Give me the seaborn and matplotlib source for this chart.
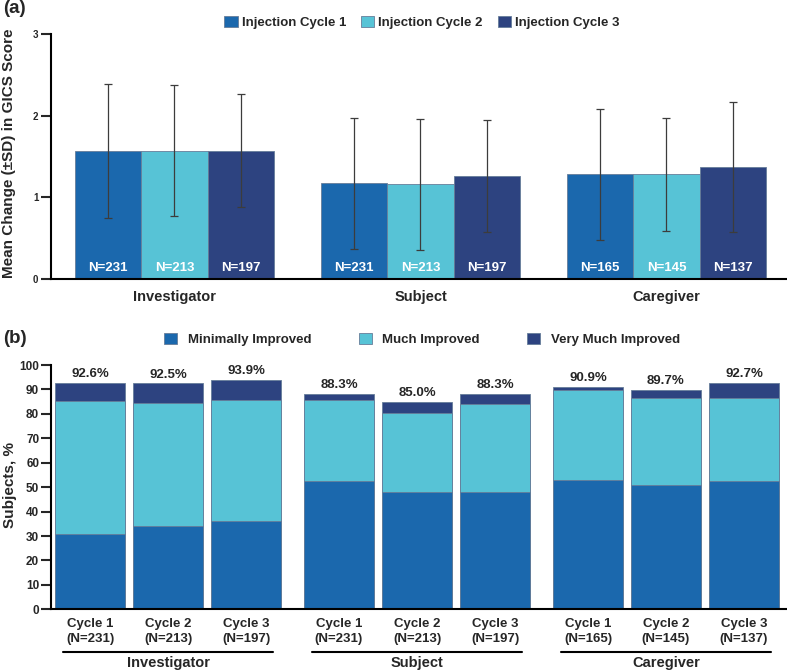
import numpy as np
import pandas as pd
import seaborn as sns
import matplotlib.pyplot as plt
import matplotlib.transforms as mtransforms
from matplotlib.patches import Patch

# ---- panel (a): mean change in GICS score
raters = ["Investigator", "Subject", "Caregiver"]
cycles_a = ["Injection Cycle 1", "Injection Cycle 2", "Injection Cycle 3"]
mean_c1 = [1.57, 1.17, 1.28]
mean_c2 = [1.57, 1.16, 1.28]
mean_c3 = [1.57, 1.26, 1.37]
sd_c1 = [0.82, 0.80, 0.80]
sd_c2 = [0.80, 0.80, 0.69]
sd_c3 = [0.69, 0.69, 0.80]
n_c1 = [231, 231, 165]
n_c2 = [213, 213, 145]
n_c3 = [197, 197, 137]

# ---- panel (b): responder categories, %
b_rater = ["Investigator"] * 3 + ["Subject"] * 3 + ["Caregiver"] * 3
b_cycle = ["Cycle 1", "Cycle 2", "Cycle 3"] * 3
b_n = [231, 213, 197, 231, 213, 197, 165, 145, 137]
minimal = [31.0, 34.0, 36.0, 52.5, 48.2, 48.2, 52.8, 51.0, 52.6]
much = [54.3, 50.6, 49.8, 33.1, 32.3, 36.0, 37.0, 35.3, 33.9]
very_much = [7.3, 7.9, 8.1, 2.7, 4.5, 4.1, 1.1, 3.4, 6.2]
totals = [92.6, 92.5, 93.9, 88.3, 85.0, 88.3, 90.9, 89.7, 92.7]
resp_labels = ["Minimally Improved", "Much Improved", "Very Much Improved"]

blue, cyan, navy = "#1b68ad", "#57c3d6", "#2d4380"
edge = "#667d99"

sns.set_style("ticks")
plt.rcParams["font.family"] = ["Liberation Sans", "DejaVu Sans"]
plt.rcParams["font.weight"] = "bold"
plt.rcParams["axes.labelweight"] = "bold"

fig = plt.figure(figsize=(7.87, 6.72), dpi=100)
ax1 = fig.add_axes([0.0648, 0.5848, 0.9352, 0.3646])
ax2 = fig.add_axes([0.0648, 0.0933, 0.9352, 0.3635])

# ---------------- (a)
df_a = pd.DataFrame({
    "rater": raters * 3,
    "cycle": np.repeat(cycles_a, 3),
    "mean": mean_c1 + mean_c2 + mean_c3,
})
sns.barplot(df_a, x="rater", y="mean", hue="cycle", palette=[blue, cyan, navy],
            width=0.81, errorbar=None, saturation=1, edgecolor=edge, linewidth=0.6, ax=ax1)

for cont, means, sds, ns in zip(ax1.containers, [mean_c1, mean_c2, mean_c3],
                                [sd_c1, sd_c2, sd_c3], [n_c1, n_c2, n_c3]):
    xs = [b.get_x() + b.get_width() / 2 for b in cont]
    ax1.errorbar(xs, means, yerr=sds, fmt="none", ecolor="#3c3c3c",
                 elinewidth=0.9, capsize=3, capthick=0.9, zorder=3)
    for x, n in zip(xs, ns):
        ax1.text(x, 0.13, f"N={n}", color="white", ha="center", va="center", fontsize=9.5)

ax1.set_ylim(0, 3)
ax1.set_yticks([0, 1, 2, 3])
ax1.set_xlim(-0.502, 2.49)
ax1.set_xlabel("")
ax1.set_ylabel("")
ax1.tick_params(axis="x", length=0, pad=8, labelsize=10.5)
ax1.tick_params(axis="y", length=7, width=1.5, labelsize=7, pad=2)
sns.move_legend(ax1, "lower center", bbox_to_anchor=(0.504, 1.02), ncol=3, frameon=False,
                title=None, handlelength=1, handleheight=1, handletextpad=0.3,
                columnspacing=1.15, borderpad=0, borderaxespad=0, fontsize=9.5)

# ---------------- (b)
df_b = pd.DataFrame({"rater": b_rater, "cycle": b_cycle, "minimal": minimal,
                     "much": much, "very": very_much})
df_b["top_much"] = df_b["minimal"] + df_b["much"]
df_b["top_all"] = df_b["top_much"] + df_b["very"]

total_bars = None
for col, color in [("top_all", navy), ("top_much", cyan), ("minimal", blue)]:
    before = len(ax2.containers)
    sns.barplot(df_b, x="rater", y=col, hue="cycle", palette=[color] * 3,
                width=0.94, gap=0.1, errorbar=None, saturation=1, edgecolor=edge,
                linewidth=0.6, legend=False, ax=ax2)
    if total_bars is None:
        total_bars = sorted([b for c in ax2.containers[before:] for b in c],
                            key=lambda b: b.get_x())

centers = [b.get_x() + b.get_width() / 2 for b in total_bars]
for x, b, t in zip(centers, total_bars, totals):
    ax2.annotate(f"{t:.1f}%", (x, b.get_height()), xytext=(0, 2),
                 textcoords="offset points", ha="center", va="bottom", fontsize=9.5)

ax2.set_xticks(centers)
ax2.set_xticklabels([f"{c}\n(N={n})" for c, n in zip(b_cycle, b_n)], linespacing=1.35)
ax2.set_xlim(-0.47, 2.486)
ax2.set_ylim(0, 100)
ax2.set_yticks(range(0, 101, 10))
ax2.set_xlabel("")
ax2.set_ylabel("")
ax2.tick_params(axis="x", length=0, pad=6.5, labelsize=9.5)
ax2.tick_params(axis="y", length=7, width=1.5, labelsize=8.5, pad=1.5)

trans = mtransforms.blended_transform_factory(ax2.transData, ax2.transAxes)
for i, r in enumerate(raters):
    ax2.plot([i - 0.42, i + 0.42], [-0.1736, -0.1736], transform=trans,
             color="black", lw=1.5, clip_on=False)
    ax2.text(i, -0.221, r, transform=trans, ha="center", va="center", fontsize=10.5)

handles = [Patch(facecolor=c, edgecolor=edge, linewidth=0.6, label=l)
           for c, l in zip([blue, cyan, navy], resp_labels)]
ax2.legend(handles=handles, loc="lower center", bbox_to_anchor=(0.504, 1.078), ncol=3,
           frameon=False, handlelength=1, handleheight=1, handletextpad=0.8,
           columnspacing=3.6, borderpad=0, borderaxespad=0, fontsize=9.5)

for ax in (ax1, ax2):
    sns.despine(ax=ax)
    for s in ("left", "bottom"):
        ax.spines[s].set_linewidth(1.5)
        ax.spines[s].set_color("black")

# y labels placed in figure coordinates so they stay inside the canvas
fig.text(9 / 787, 1 - 153 / 672, "Mean Change (\u00b1SD) in GICS Score", rotation=90,
         fontsize=11, ha="center", va="center")
fig.text(10 / 787, 1 - 485 / 672, "Subjects, %", rotation=90,
         fontsize=11, ha="center", va="center")

fig.text(0.004, 0.987, "(a)", fontsize=13.5, ha="left", va="center")
fig.text(0.004, 0.497, "(b)", fontsize=13.5, ha="left", va="center")

fig.savefig("out.png", dpi=100)
